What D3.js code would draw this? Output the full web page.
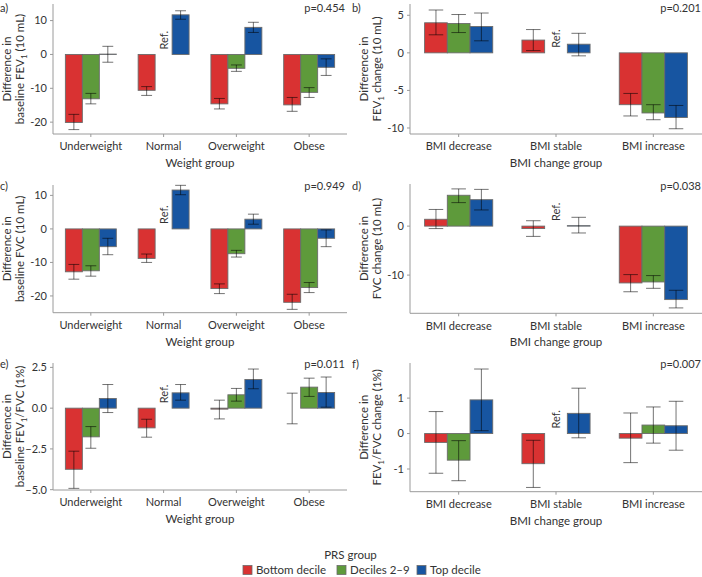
<!DOCTYPE html>
<html><head><meta charset="utf-8">
<script src="https://cdn.jsdelivr.net/npm/d3@7"></script>
<style>
body{margin:0;background:#fff;}
text{font-family:Lato,"Source Sans Pro","Noto Sans",sans-serif;fill:#333;}
</style></head>
<body><svg id="chart" width="702" height="577"></svg>
<script>
const weightGroups = ["Underweight","Normal","Overweight","Obese"];
const bmiGroups = ["BMI decrease","BMI stable","BMI increase"];
const prsGroups = ["Bottom decile","Deciles 2–9","Top decile"];
const prsColors = ["#d93232","#5e9a3b","#1755a1"];

// Panel a: baseline FEV1 (10 mL) by weight group; [value, lower, upper] per PRS group, null = reference
const aVals = [[-20.1,-22.2,-17.7],[-13.1,-14.6,-11.5],[0.1,-2.3,2.4],
               [-10.6,-12.1,-9.5],null,[11.7,10.4,12.9],
               [-14.6,-16.1,-13.0],[-4.1,-5.0,-3.1],[8.0,6.5,9.5],
               [-14.9,-16.8,-12.7],[-11.2,-12.7,-9.8],[-3.8,-6.2,-1.3]];
// Panel b: FEV1 change (10 mL) by BMI change group
const bVals = [[4.0,2.4,5.7],[3.9,2.7,5.1],[3.5,1.6,5.3],
               [1.7,0.3,3.1],null,[1.15,-0.4,2.6],
               [-6.9,-8.4,-5.4],[-8.0,-8.9,-6.9],[-8.6,-10.1,-7.0]];
// Panel c: baseline FVC (10 mL)
const cVals = [[-12.8,-15.0,-10.6],[-12.5,-14.1,-11.0],[-5.3,-7.7,-2.8],
               [-8.8,-10.0,-7.5],null,[11.6,10.2,13.0],
               [-17.8,-19.3,-16.4],[-7.4,-8.4,-6.4],[2.9,1.4,4.4],
               [-21.9,-24.0,-19.5],[-17.5,-19.0,-16.0],[-2.8,-5.3,-0.3]];
// Panel d: FVC change (10 mL)
const dVals = [[1.4,-0.5,3.4],[6.3,4.8,7.6],[5.4,3.3,7.5],
               [-0.5,-2.1,1.1],null,[0.1,-1.4,1.8],
               [-11.6,-13.4,-9.9],[-11.4,-12.7,-10.1],[-15.0,-16.7,-13.1]];
// Panel e: baseline FEV1/FVC (1%)
const eVals = [[-3.75,-4.92,-2.64],[-1.76,-2.46,-1.13],[0.59,-0.27,1.45],
               [-1.21,-1.78,-0.68],null,[0.94,0.49,1.45],
               [-0.06,-0.66,0.49],[0.82,0.43,1.21],[1.76,1.19,2.40],
               [0.0,-0.96,0.92],[1.29,0.72,1.84],[0.96,0.06,1.91]];
// Panel f: FEV1/FVC change (1%)
const fVals = [[-0.25,-1.12,0.62],[-0.75,-1.33,-0.2],[0.95,0.08,1.82],
               [-0.85,-1.52,-0.19],null,[0.57,-0.12,1.28],
               [-0.13,-0.82,0.58],[0.24,-0.27,0.75],[0.22,-0.47,0.91]];

const pValues = ["p=0.454","p=0.201","p=0.949","p=0.038","p=0.011","p=0.007"];
const panelLabels = ["a)","b)","c)","d)","e)","f)"];
const aTicks=[-20,-10,0,10], bTicks=[-10,-5,0,5], cTicks=[-20,-10,0,10],
      dTicks=[-10,0], eTicks=[-5,-2.5,0,2.5], fTicks=[-1,0,1];

const svg = d3.select("#chart");

function drawPanel(cfg){
  const g = svg.append("g");
  const n = cfg.cats.length;
  const x = d3.scaleLinear().domain([1-cfg.pad, n+cfg.pad]).range([cfg.x0, cfg.x1]);
  const y = d3.scaleLinear().domain(cfg.dom).range([cfg.yb, cfg.yt]);
  const bw = 0.7/3;
  // bars
  cfg.cats.forEach((c,ci)=>{
    prsGroups.forEach((p,pi)=>{
      const d = cfg.vals[ci*3+pi];
      const xc = ci+1 + (pi-1)*bw;
      const v = d ? d[0] : 0;
      const fill = d ? prsColors[pi] : "none";
      g.append("rect")
        .attr("x", x(xc-bw/2)).attr("width", x(xc+bw/2)-x(xc-bw/2))
        .attr("y", y(Math.max(v,0))).attr("height", Math.abs(y(v)-y(0)))
        .attr("fill", fill).attr("stroke","#6b6b6b").attr("stroke-width",0.9);
      if(!d){
        g.append("text").attr("transform",`translate(${x(xc)+4},${y(0)-5}) rotate(-90)`)
          .attr("font-size",11).attr("text-anchor","start").text("Ref.");
      }
    });
  });
  // error bars
  cfg.cats.forEach((c,ci)=>{
    prsGroups.forEach((p,pi)=>{
      const d = cfg.vals[ci*3+pi];
      if(!d) return;
      const xc = ci+1 + (pi-1)*bw;
      const hw = bw*0.32;
      const col = "rgba(0,0,0,0.55)";
      g.append("line").attr("x1",x(xc)).attr("x2",x(xc)).attr("y1",y(d[1])).attr("y2",y(d[2]))
        .attr("stroke",col).attr("stroke-width",1);
      [d[1],d[2]].forEach(e=>{
        g.append("line").attr("x1",x(xc-hw)).attr("x2",x(xc+hw)).attr("y1",y(e)).attr("y2",y(e))
          .attr("stroke",col).attr("stroke-width",1);
      });
    });
  });
  // axes
  const axCol="#9a9a9a";
  g.append("line").attr("x1",cfg.x0).attr("x2",cfg.x0).attr("y1",cfg.yt).attr("y2",cfg.yb)
    .attr("stroke",axCol).attr("stroke-width",1);
  g.append("line").attr("x1",cfg.x0).attr("x2",cfg.x1).attr("y1",cfg.yb).attr("y2",cfg.yb)
    .attr("stroke",axCol).attr("stroke-width",1);
  cfg.ticks.forEach(t=>{
    g.append("line").attr("x1",cfg.x0-3).attr("x2",cfg.x0).attr("y1",y(t)).attr("y2",y(t)).attr("stroke",axCol);
    g.append("text").attr("x",cfg.x0-6).attr("y",y(t)).attr("dy","0.35em").attr("text-anchor","end")
      .attr("font-size",11).text(cfg.fmt(t));
  });
  cfg.cats.forEach((c,ci)=>{
    g.append("line").attr("x1",x(ci+1)).attr("x2",x(ci+1)).attr("y1",cfg.yb).attr("y2",cfg.yb+3).attr("stroke",axCol);
    g.append("text").attr("x",x(ci+1)).attr("y",cfg.yb+12.5).attr("dy","0.35em").attr("text-anchor","middle")
      .attr("font-size",11).text(c);
  });
  g.append("text").attr("x",(cfg.x0+cfg.x1)/2).attr("y",cfg.yb+29).attr("dy","0.35em").attr("text-anchor","middle")
    .attr("font-size",11.5).text(cfg.xTitle);
  // y title (two lines)
  const ym = (cfg.yt+cfg.yb)/2;
  cfg.yTitle.forEach((line,li)=>{
    const t = g.append("text").attr("transform",`translate(${cfg.tx[li]},${ym}) rotate(-90)`)
      .attr("text-anchor","middle").attr("dy","0.35em").attr("font-size",11.5);
    line.forEach(seg=>{
      if(seg.sub){ t.append("tspan").attr("font-size",8).attr("dy","3").text(seg.t); }
      else { const s=t.append("tspan").text(seg.t); if(seg.after) s.attr("dy","-3"); }
    });
  });
  // labels
  g.append("text").attr("x",cfg.lx).attr("y",cfg.ly).attr("font-size",11).text(cfg.label);
  g.append("text").attr("x",cfg.px).attr("y",cfg.ly).attr("text-anchor","end").attr("font-size",11).text(cfg.p);
}

const fmtInt = d=>d3.format("d")(d).replace("-","−").replace("−","-");
const fmt1 = d=>d3.format(".1f")(d);

const L = {x0:53,x1:347,pad:0.52,lx:0,px:345,tx:[7,20]};
const R = {x0:410,x1:702,pad:0.5,lx:352,px:701,tx:[364,377]};

drawPanel({...L, yt:4, yb:134, dom:[-23.5,14.9], cats:weightGroups, vals:aVals, ticks:aTicks, fmt:d=>String(d),
  xTitle:"Weight group", yTitle:[[{t:"Difference in"}],[{t:"baseline FEV"},{t:"1",sub:true},{t:" (10 mL)",after:true}]],
  label:panelLabels[0], p:pValues[0], ly:12});
drawPanel({...R, yt:4, yb:134, dom:[-10.8,6.5], cats:bmiGroups, vals:bVals, ticks:bTicks, fmt:d=>String(d),
  xTitle:"BMI change group", yTitle:[[{t:"Difference in"}],[{t:"FEV"},{t:"1",sub:true},{t:" change (10 mL)",after:true}]],
  label:panelLabels[1], p:pValues[1], ly:12});
drawPanel({...L, yt:185, yb:312.7, dom:[-25.0,13.1], cats:weightGroups, vals:cVals, ticks:cTicks, fmt:d=>String(d),
  xTitle:"Weight group", yTitle:[[{t:"Difference in"}],[{t:"baseline FVC (10 mL)"}]],
  label:panelLabels[2], p:pValues[2], ly:190});
drawPanel({...R, yt:184, yb:313.3, dom:[-17.8,8.6], cats:bmiGroups, vals:dVals, ticks:dTicks, fmt:d=>String(d),
  xTitle:"BMI change group", yTitle:[[{t:"Difference in"}],[{t:"FVC change (10 mL)"}]],
  label:panelLabels[3], p:pValues[3], ly:190});
drawPanel({...L, yt:363, yb:490, dom:[-5.02,2.77], cats:weightGroups, vals:eVals, ticks:eTicks, fmt:fmt1,
  xTitle:"Weight group", yTitle:[[{t:"Difference in"}],[{t:"baseline FEV"},{t:"1",sub:true},{t:"/FVC (1%)",after:true}]],
  label:panelLabels[4], p:pValues[4], ly:368});
drawPanel({...R, yt:363, yb:491.7, dom:[-1.64,1.99], cats:bmiGroups, vals:fVals, ticks:fTicks, fmt:d=>String(d),
  xTitle:"BMI change group", yTitle:[[{t:"Difference in"}],[{t:"FEV"},{t:"1",sub:true},{t:"/FVC change (1%)",after:true}]],
  label:panelLabels[5], p:pValues[5], ly:368});

// legend
const lg = svg.append("g");
lg.append("text").attr("x",350.5).attr("y",555).attr("dy","0.35em").attr("text-anchor","middle").attr("font-size",11.5).text("PRS group");
const keyX = [243,337,417];
prsGroups.forEach((p,i)=>{
  lg.append("rect").attr("x",keyX[i]).attr("y",565.5).attr("width",9).attr("height",9)
    .attr("fill",prsColors[i]).attr("stroke","#6b6b6b").attr("stroke-width",0.8);
  lg.append("text").attr("x",keyX[i]+13).attr("y",570).attr("dy","0.35em").attr("font-size",11.5).text(p);
});
</script></body></html>
